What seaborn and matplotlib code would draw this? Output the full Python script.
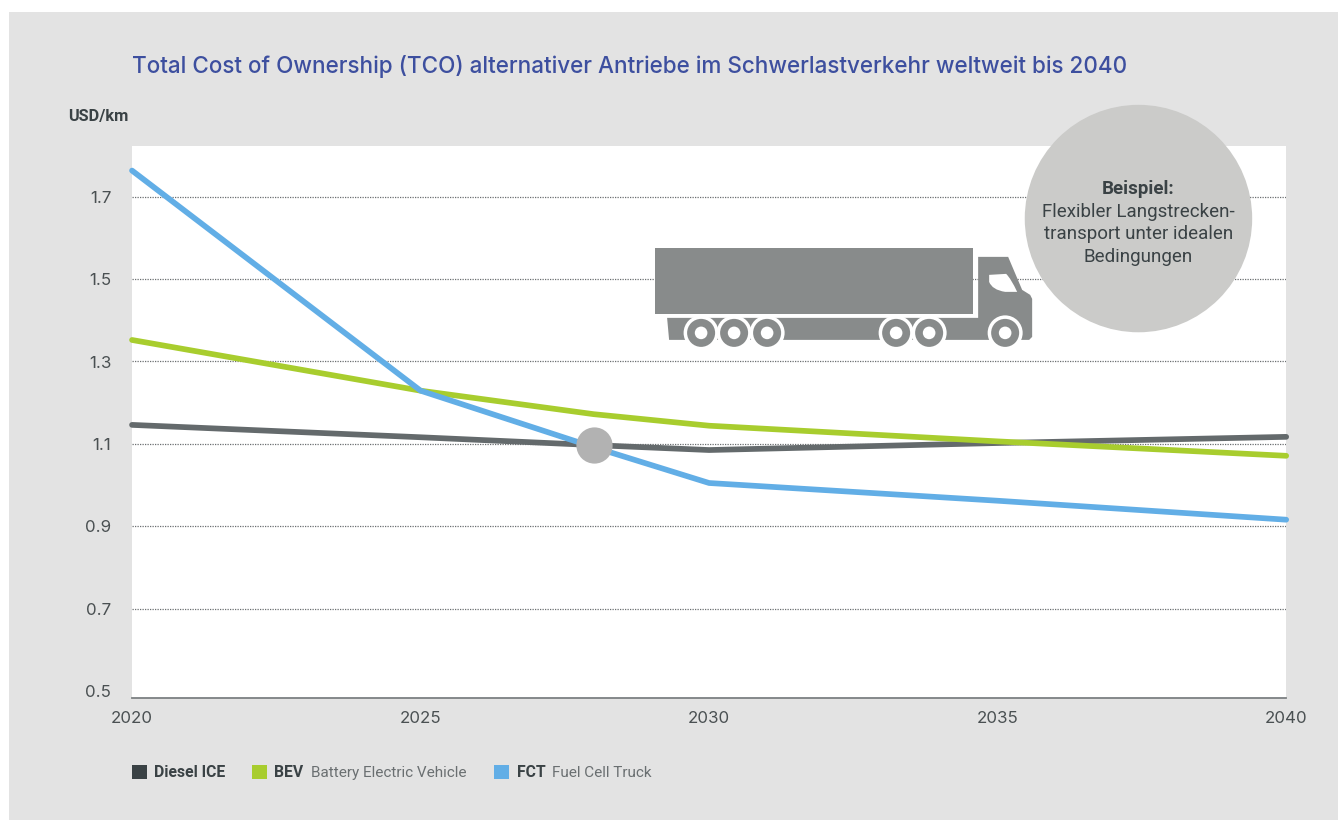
import pandas as pd
import matplotlib.pyplot as plt
import matplotlib.patches as mpatches
from matplotlib.path import Path
from matplotlib.transforms import Affine2D
import seaborn as sns

W, H = 1338, 820

# Values
years = [2020, 2025, 2028, 2030, 2035, 2040]
diesel = [1.146, 1.116, 1.097, 1.085, 1.102, 1.117]
bev = [1.352, 1.229, 1.172, 1.144, 1.106, 1.071]
fct = [1.763, 1.229, 1.092, 1.005, 0.962, 0.916]
series_names = ['Diesel ICE', 'BEV', 'FCT']
series_colors = ['#646a6c', '#a8cd2e', '#62aee6']
legend_colors = ['#3a4245', '#a8cd2e', '#62aee6']
y_ticks = [0.5, 0.7, 0.9, 1.1, 1.3, 1.5, 1.7]
x_ticks = [2020, 2025, 2030, 2035, 2040]
crossing_year = 2028
crossing_value = 1.098

data = pd.DataFrame({'year': years, 'Diesel ICE': diesel, 'BEV': bev, 'FCT': fct})
data = data.melt(id_vars='year', var_name='type', value_name='usd_km')

sns.set_theme(style='white')
plt.rcParams['font.family'] = ['Roboto', 'DejaVu Sans']

# the small extra keeps matplotlib from rounding the height down to 819 px
fig = plt.figure(figsize=((W + 0.2) / 100, (H + 0.2) / 100), dpi=100, facecolor='white')
# pixel coordinates with the origin top left
px = Affine2D().scale(1 / W, -1 / H).translate(0, 1) + fig.transFigure

fig.add_artist(mpatches.Rectangle((9, 12), W - 9, H - 12, transform=px, fc='#e3e3e3', ec='none', zorder=-5))

ax = fig.add_axes([132 / W, 1 - 698 / H, (1286 - 132) / W, (698 - 146) / H], facecolor='white')
sns.lineplot(data=data, x='year', y='usd_km', hue='type', hue_order=series_names, palette=series_colors,
             linewidth=4.1, legend=False, ax=ax, zorder=3, solid_capstyle='round', clip_on=False)
ax.scatter([crossing_year], [crossing_value], s=680, color='#b2b2b2', linewidths=0, zorder=4)

ax.set_xlim(2020, 2040)
ax.set_ylim(0.4835, 1.823)
ax.set_xlabel('')
ax.set_ylabel('')
ax.set_xticks(x_ticks)
ax.set_yticks(y_ticks)
ax.set_xticklabels([str(x) for x in x_ticks], family='Inter')
ax.set_yticklabels([f'{y:.1f}' for y in y_ticks], family='Inter')
ax.tick_params(axis='x', length=0, pad=9, labelsize=12.2, labelcolor='#4a5052')
ax.tick_params(axis='y', length=0, pad=15, labelsize=12.2, labelcolor='#4a5052')
for y in y_ticks[1:]:
    ax.axhline(y, color='#6b6f70', lw=0.9, ls=(0, (1, 1)), zorder=1)
for side in ['top', 'right', 'left']:
    ax.spines[side].set_visible(False)
ax.spines['bottom'].set_color('#7c8082')
ax.spines['bottom'].set_linewidth(1.3)

fig.text(132 / W, 1 - 66 / H, 'Total Cost of Ownership (TCO) alternativer Antriebe im Schwerlastverkehr weltweit bis 2040',
         fontsize=16.2, color='#3d4f9f', va='center', family='Inter', fontweight='medium')
fig.text(68 / W, 1 - 116.5 / H, 'USD/km', fontsize=11.8, fontweight='bold', color='#3a4245', va='center')

# callout circle
fig.add_artist(mpatches.Circle((1138.3, 218.7), 113.7, transform=px, fc='#cbcbc9', ec='none', zorder=2))
fig.text(1138 / W, 1 - 189 / H, 'Beispiel:', fontsize=13.5, fontweight='bold', color='#3a4245',
         ha='center', va='center', zorder=3)
for line, yp in zip(['Flexibler Langstrecken-', 'transport unter idealen', 'Bedingungen'], [212, 234, 257]):
    fig.text(1138 / W, 1 - yp / H, line, fontsize=13.5, color='#3a4245', ha='center', va='center', zorder=3)

# truck icon
truck = '#888b8b'
fig.add_artist(mpatches.Rectangle((655, 248), 318, 66, transform=px, fc=truck, ec='none', zorder=4))
body = [(667, 318), (978, 318), (978, 257), (1008, 257), (1022, 290), (1030, 295), (1032, 299),
        (1032, 337), (1029, 340), (669, 340)]
fig.add_artist(mpatches.Polygon(body, closed=True, transform=px, fc=truck, ec='none', zorder=4))
window = Path([(989, 275), (1006, 274), (1011, 279), (1017, 292), (1005, 292), (992, 290), (989, 282), (989, 275)],
              [Path.MOVETO, Path.LINETO, Path.CURVE3, Path.CURVE3, Path.LINETO, Path.CURVE3, Path.CURVE3, Path.CLOSEPOLY])
fig.add_artist(mpatches.PathPatch(window, transform=px, fc='white', ec='none', zorder=5))
for wx in [701, 734, 767, 896, 929, 1005]:
    fig.add_artist(mpatches.Circle((wx, 333), 17.5, transform=px, fc='white', ec='none', zorder=5))
for wx in [701, 734, 767, 896, 929, 1005]:
    fig.add_artist(mpatches.Circle((wx, 333), 14, transform=px, fc=truck, ec='none', zorder=6))
    fig.add_artist(mpatches.Circle((wx, 333), 6.3, transform=px, fc='white', ec='none', zorder=7))

# legend
legend_x = [132, 252, 494]
bold_x = [154, 274, 517]
plain_x = [None, 311, 552]
plain_text = ['', 'Battery Electric Vehicle', 'Fuel Cell Truck']
for i, name in enumerate(series_names):
    fig.add_artist(mpatches.Rectangle((legend_x[i], 765), 15, 14, transform=px, fc=legend_colors[i], ec='none'))
    fig.text(bold_x[i] / W, 1 - 772.5 / H, name, fontsize=11.3, fontweight='bold', color='#3a4245', va='center')
    if plain_x[i]:
        fig.text(plain_x[i] / W, 1 - 772.5 / H, plain_text[i], fontsize=11.0, color='#6a6f71', va='center')

fig.savefig('out.png', dpi=100)
